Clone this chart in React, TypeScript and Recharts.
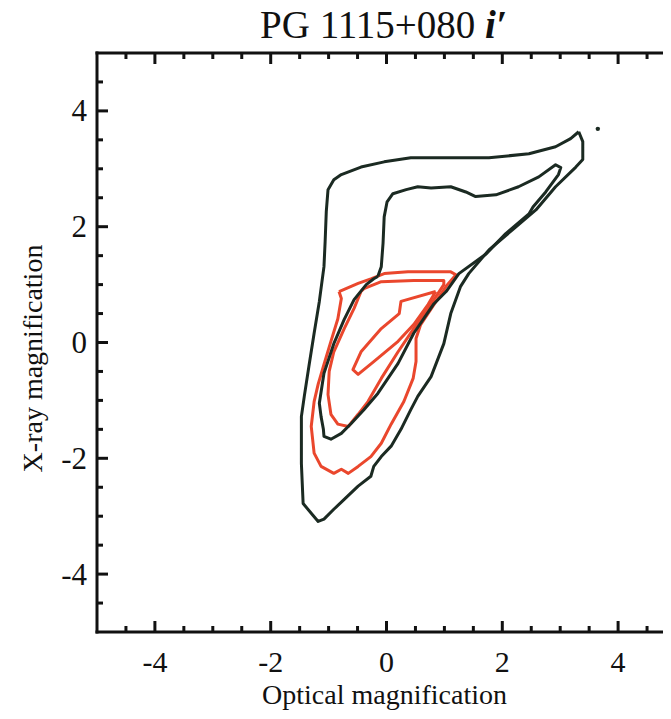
import React from 'react';
import { ScatterChart, Scatter, XAxis, YAxis, Label } from 'recharts';

type Pt = { x: number; y: number };

const TITLE = 'PG 1115+080';
const TITLE_BAND = 'i′';
const X_TITLE = 'Optical magnification';
const Y_TITLE = 'X-ray magnification';

const AXIS_DOMAIN: [number, number] = [-5, 5];
const AXIS_TICKS = [-4.5, -4, -3.5, -3, -2.5, -2, -1.5, -1, -0.5, 0, 0.5, 1, 1.5, 2, 2.5, 3, 3.5, 4, 4.5];
const LABELED_TICKS = [-4, -2, 0, 2, 4];

// outer dark contour
const blackOuter: Pt[] = [
  { x: 3.32, y: 3.64 }, { x: 3.39, y: 3.47 }, { x: 3.39, y: 3.16 }, { x: 3.27, y: 3.03 },
  { x: 2.92, y: 2.69 }, { x: 2.58, y: 2.29 }, { x: 2.18, y: 1.95 }, { x: 1.77, y: 1.6 },
  { x: 1.42, y: 1.19 }, { x: 1.28, y: 0.97 }, { x: 1.11, y: 0.5 }, { x: 0.99, y: -0.02 },
  { x: 0.77, y: -0.59 }, { x: 0.54, y: -0.93 }, { x: 0.42, y: -1.16 }, { x: 0.25, y: -1.5 },
  { x: 0.08, y: -1.79 }, { x: -0.09, y: -1.97 }, { x: -0.22, y: -2.14 }, { x: -0.27, y: -2.31 },
  { x: -0.49, y: -2.48 }, { x: -0.73, y: -2.71 }, { x: -0.91, y: -2.88 }, { x: -1.08, y: -3.05 },
  { x: -1.18, y: -3.09 }, { x: -1.3, y: -2.95 }, { x: -1.44, y: -2.78 }, { x: -1.47, y: -2.09 },
  { x: -1.47, y: -1.28 }, { x: -1.42, y: -0.93 }, { x: -1.34, y: -0.41 }, { x: -1.25, y: 0.16 },
  { x: -1.16, y: 0.71 }, { x: -1.08, y: 1.31 }, { x: -1.06, y: 1.74 }, { x: -1.04, y: 2.26 },
  { x: -1.01, y: 2.64 }, { x: -0.91, y: 2.81 }, { x: -0.78, y: 2.9 }, { x: -0.44, y: 3.03 },
  { x: -0.04, y: 3.12 }, { x: 0.42, y: 3.19 }, { x: 1.11, y: 3.19 }, { x: 1.77, y: 3.19 },
  { x: 2.46, y: 3.26 }, { x: 2.92, y: 3.38 }, { x: 3.18, y: 3.52 },
];

// inner dark contour
const blackInner: Pt[] = [
  { x: -0.15, y: 1.14 }, { x: -0.09, y: 1.31 }, { x: -0.06, y: 1.71 }, { x: -0.04, y: 2.17 },
  { x: 0.01, y: 2.43 }, { x: 0.11, y: 2.57 }, { x: 0.34, y: 2.64 }, { x: 0.54, y: 2.69 },
  { x: 0.77, y: 2.67 }, { x: 1.11, y: 2.69 }, { x: 1.37, y: 2.6 }, { x: 1.54, y: 2.52 },
  { x: 1.89, y: 2.55 }, { x: 2.28, y: 2.69 }, { x: 2.63, y: 2.86 }, { x: 2.92, y: 3.07 },
  { x: 3.01, y: 3.02 }, { x: 2.97, y: 2.9 }, { x: 2.75, y: 2.6 }, { x: 2.53, y: 2.34 },
  { x: 2.46, y: 2.22 }, { x: 2.06, y: 1.88 }, { x: 1.72, y: 1.53 }, { x: 1.25, y: 1.19 },
  { x: 1.03, y: 0.88 }, { x: 0.82, y: 0.67 }, { x: 0.47, y: 0.16 }, { x: 0.2, y: -0.36 },
  { x: -0.15, y: -0.88 }, { x: -0.39, y: -1.16 }, { x: -0.61, y: -1.4 }, { x: -0.78, y: -1.57 },
  { x: -0.96, y: -1.67 }, { x: -1.08, y: -1.62 }, { x: -1.09, y: -1.5 }, { x: -1.13, y: -1.28 },
  { x: -1.16, y: -1.05 }, { x: -1.08, y: -0.53 }, { x: -0.91, y: -0.02 }, { x: -0.73, y: 0.4 },
  { x: -0.56, y: 0.74 }, { x: -0.35, y: 1.0 }, { x: -0.22, y: 1.1 },
];

const redOuter: Pt[] = [
  { x: -0.82, y: 0.88 }, { x: -0.49, y: 1.02 }, { x: -0.27, y: 1.1 }, { x: -0.04, y: 1.19 },
  { x: 0.37, y: 1.22 }, { x: 0.77, y: 1.22 }, { x: 1.11, y: 1.22 }, { x: 1.2, y: 1.17 },
  { x: 1.03, y: 0.97 }, { x: 0.89, y: 0.76 }, { x: 0.59, y: 0.31 }, { x: 0.51, y: 0.07 },
  { x: 0.51, y: -0.33 }, { x: 0.46, y: -0.62 }, { x: 0.3, y: -1.02 }, { x: 0.08, y: -1.41 },
  { x: -0.09, y: -1.74 }, { x: -0.27, y: -1.97 }, { x: -0.49, y: -2.14 }, { x: -0.66, y: -2.26 },
  { x: -0.78, y: -2.19 }, { x: -0.91, y: -2.26 }, { x: -1.13, y: -2.14 }, { x: -1.25, y: -1.91 },
  { x: -1.3, y: -1.45 }, { x: -1.25, y: -1.02 }, { x: -1.18, y: -0.72 }, { x: -1.08, y: -0.38 },
  { x: -0.96, y: 0.02 }, { x: -0.84, y: 0.41 }, { x: -0.78, y: 0.76 },
];

const redMiddle: Pt[] = [
  { x: -0.44, y: 0.88 }, { x: -0.39, y: 0.93 }, { x: -0.09, y: 1.05 }, { x: 0.47, y: 1.07 },
  { x: 0.99, y: 1.07 }, { x: 0.99, y: 1.0 }, { x: 0.72, y: 0.59 }, { x: 0.47, y: 0.24 },
  { x: 0.2, y: -0.16 }, { x: -0.09, y: -0.62 }, { x: -0.32, y: -1.02 }, { x: -0.49, y: -1.24 },
  { x: -0.66, y: -1.45 }, { x: -0.84, y: -1.41 }, { x: -0.96, y: -1.24 }, { x: -1.01, y: -0.9 },
  { x: -0.99, y: -0.5 }, { x: -0.91, y: -0.16 }, { x: -0.73, y: 0.24 }, { x: -0.56, y: 0.59 },
];

const redInner: Pt[] = [
  { x: 0.85, y: 0.88 }, { x: 0.25, y: 0.71 }, { x: 0.22, y: 0.5 }, { x: -0.09, y: 0.24 },
  { x: -0.44, y: -0.16 }, { x: -0.58, y: -0.47 }, { x: -0.49, y: -0.55 }, { x: -0.22, y: -0.33 },
  { x: 0.2, y: 0.02 }, { x: 0.47, y: 0.31 }, { x: 0.72, y: 0.66 },
];

const strayPoint: Pt[] = [{ x: 3.65, y: 3.69 }];

const FRAME = '#111111';
const DARK = '#1b2a22';
const RED = '#ea472d';
const SERIF = "'Liberation Serif', 'Times New Roman', serif";

const closed = (pts: Pt[]) => [...pts, pts[0]];
const isMajor = (v: number) => LABELED_TICKS.includes(v);

const BottomTick = ({ x, y, payload }: any) => {
  const v = payload.value;
  return (
    <g>
      <line x1={x} y1={y} x2={x} y2={y - (isMajor(v) ? 11 : 6)} stroke={FRAME} strokeWidth={3} />
      {isMajor(v) && (
        <text x={x} y={y + 40} textAnchor="middle" fontSize={30} fontFamily={SERIF} fill={FRAME}>
          {v}
        </text>
      )}
    </g>
  );
};

const TopTick = ({ x, y, payload }: any) => (
  <line x1={x} y1={y} x2={x} y2={y + (isMajor(payload.value) ? 11 : 6)} stroke={FRAME} strokeWidth={3} />
);

const LeftTick = ({ x, y, payload }: any) => {
  const v = payload.value;
  return (
    <g>
      <line x1={x} y1={y} x2={x + (isMajor(v) ? 11 : 6)} y2={y} stroke={FRAME} strokeWidth={3} />
      {isMajor(v) && (
        <text x={x - 10} y={y + 10.5} textAnchor="end" fontSize={31} fontFamily={SERIF} fill={FRAME}>
          {v}
        </text>
      )}
    </g>
  );
};

const RightTick = ({ x, y, payload }: any) => (
  <line x1={x} y1={y} x2={x - (isMajor(payload.value) ? 11 : 6)} y2={y} stroke={FRAME} strokeWidth={3} />
);

const XTitle = ({ viewBox }: any) => {
  const vb = viewBox || { x: 97, y: 632, width: 579 };
  return (
    <text x={vb.x + vb.width / 2 - 2} y={vb.y + 72} textAnchor="middle" fontSize={28} fontFamily={SERIF} fill={FRAME}>
      {X_TITLE}
    </text>
  );
};

const YTitle = ({ viewBox }: any) => {
  const vb = viewBox || { x: 0, y: 53, height: 579 };
  const cx = 32;
  const cy = vb.y + vb.height / 2 + 16;
  return (
    <text
      x={cx}
      y={cy}
      transform={`rotate(-90, ${cx}, ${cy})`}
      textAnchor="middle"
      dominantBaseline="central"
      fontSize={28}
      fontFamily={SERIF}
      fill={FRAME}
    >
      {Y_TITLE}
    </text>
  );
};

const noDot = () => <g />;
const smallDot = ({ cx, cy }: any) => <circle cx={cx} cy={cy} r={2.2} fill={DARK} />;

const contourLine = (color: string) => ({
  stroke: color,
  strokeWidth: 3,
  strokeLinejoin: 'round' as const,
  fill: 'none',
});

const frameLine = { stroke: FRAME, strokeWidth: 3, strokeLinecap: 'square' as const };

export default function App() {
  return (
    <div style={{ position: 'relative', width: 671, height: 711, margin: '-8px 0 0 -8px', overflow: 'hidden' }}>
      <div
        style={{
          position: 'absolute',
          top: 5,
          left: 94,
          width: 579,
          textAlign: 'center',
          fontFamily: SERIF,
          fontSize: 39,
          lineHeight: '40px',
          color: FRAME,
          whiteSpace: 'nowrap',
        }}
      >
        {TITLE} <b><i>{TITLE_BAND}</i></b>
      </div>
      <ScatterChart width={686} height={711} margin={{ top: 52, right: 0, bottom: 0, left: 0 }}>
        <XAxis
          xAxisId={0}
          dataKey="x"
          type="number"
          domain={AXIS_DOMAIN}
          allowDataOverflow
          ticks={AXIS_TICKS}
          interval={0}
          tickSize={0}
          tickMargin={0}
          tickLine={false}
          tick={BottomTick}
          axisLine={frameLine}
          height={79}
        >
          <Label content={XTitle} />
        </XAxis>
        <XAxis
          xAxisId="top"
          orientation="top"
          dataKey="x"
          type="number"
          domain={AXIS_DOMAIN}
          allowDataOverflow
          ticks={AXIS_TICKS}
          interval={0}
          tickSize={0}
          tickMargin={0}
          tickLine={false}
          tick={TopTick}
          axisLine={frameLine}
          height={1}
        />
        <YAxis
          yAxisId={0}
          dataKey="y"
          type="number"
          domain={AXIS_DOMAIN}
          allowDataOverflow
          ticks={AXIS_TICKS}
          interval={0}
          tickSize={0}
          tickMargin={0}
          tickLine={false}
          tick={LeftTick}
          axisLine={frameLine}
          width={97}
        >
          <Label content={YTitle} />
        </YAxis>
        <YAxis
          yAxisId="right"
          orientation="right"
          dataKey="y"
          type="number"
          domain={AXIS_DOMAIN}
          allowDataOverflow
          ticks={AXIS_TICKS}
          interval={0}
          tickSize={0}
          tickMargin={0}
          tickLine={false}
          tick={RightTick}
          axisLine={frameLine}
          width={10}
        />
        <Scatter data={closed(blackOuter)} line={contourLine(DARK)} shape={noDot} isAnimationActive={false} />
        <Scatter data={closed(redOuter)} line={contourLine(RED)} shape={noDot} isAnimationActive={false} />
        <Scatter data={closed(redMiddle)} line={contourLine(RED)} shape={noDot} isAnimationActive={false} />
        <Scatter data={closed(redInner)} line={contourLine(RED)} shape={noDot} isAnimationActive={false} />
        <Scatter data={closed(blackInner)} line={contourLine(DARK)} shape={noDot} isAnimationActive={false} />
        <Scatter data={strayPoint} shape={smallDot} isAnimationActive={false} />
      </ScatterChart>
    </div>
  );
}
